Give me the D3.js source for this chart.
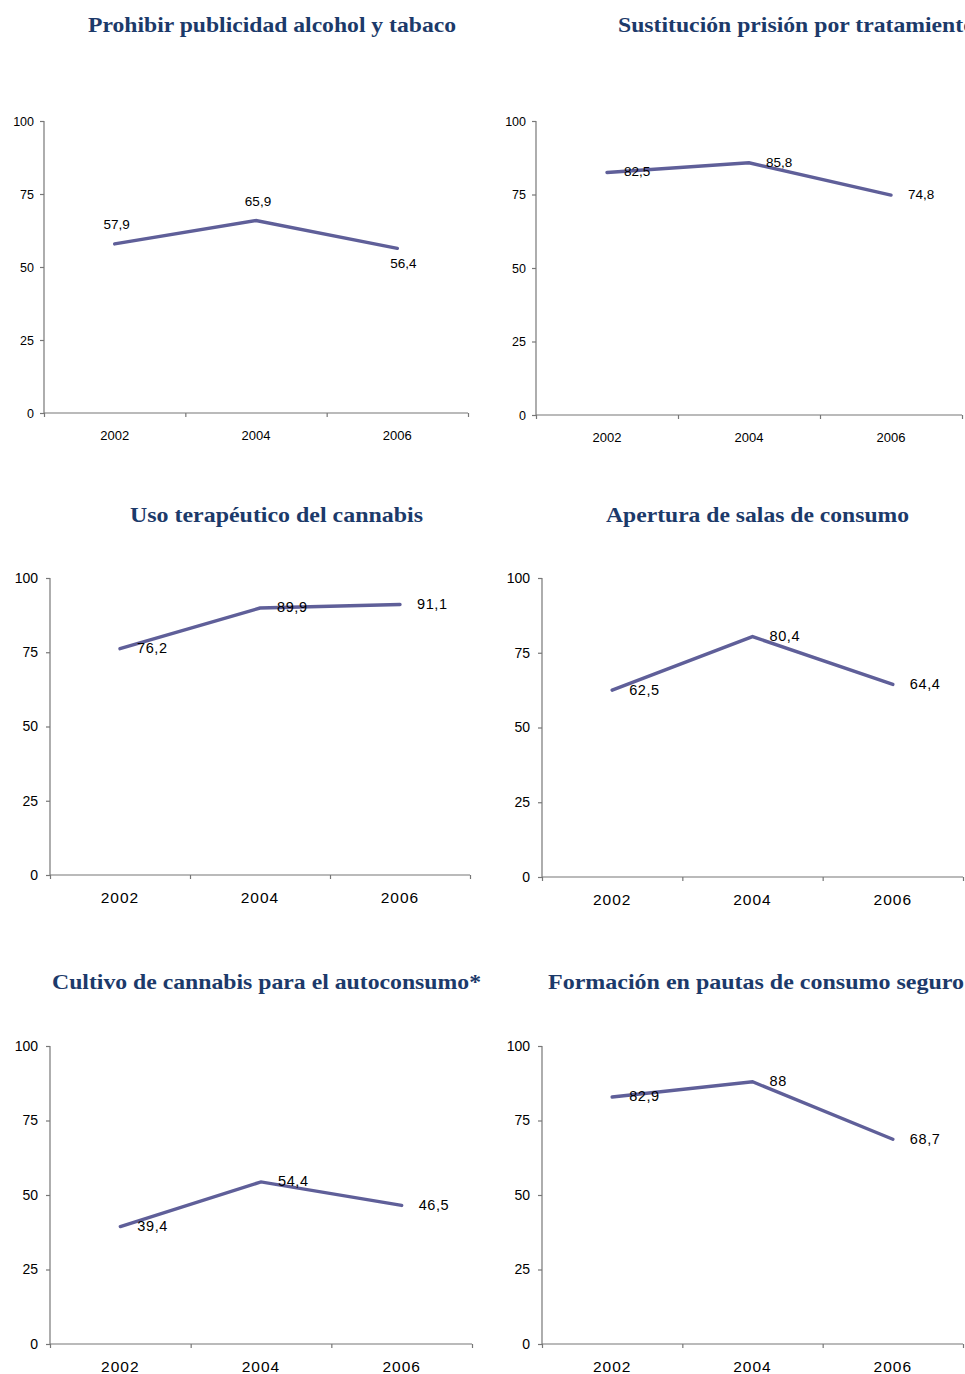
<!DOCTYPE html>
<html><head><meta charset="utf-8">
<script src="https://cdn.jsdelivr.net/npm/d3@7"></script>
<style>body{margin:0;background:#fff;overflow:hidden}</style>
</head><body><svg id="c" width="965" height="1374"></svg>
<script>
// ---- data ----
const years = ["2002", "2004", "2006"];
const yTicks = [0, 25, 50, 75, 100];
const titles = [
  "Prohibir publicidad alcohol y tabaco",
  "Sustitución prisión por tratamiento",
  "Uso terapéutico del cannabis",
  "Apertura de salas de consumo",
  "Cultivo de cannabis para el autoconsumo*",
  "Formación en pautas de consumo seguro"
];
const publicidad = [57.9, 65.9, 56.4];
const sustitucion = [82.5, 85.8, 74.8];
const terapeutico = [76.2, 89.9, 91.1];
const salas = [62.5, 80.4, 64.4];
const cultivo = [39.4, 54.4, 46.5];
const formacion = [82.9, 88, 68.7];
const seriesList = [publicidad, sustitucion, terapeutico, salas, cultivo, formacion];

// ---- layout (not data) ----
const layout = [
  {x0:44,  x1:468, yTop:121,  yBot:413,  tx:88,  ty:32,  tw:368, big:false, lab:["above","above","below"]},
  {x0:536, x1:962, yTop:121,  yBot:415,  tx:618, ty:32,  tw:357, big:false, lab:["right","right","right"]},
  {x0:50,  x1:470, yTop:578,  yBot:875,  tx:130, ty:522, tw:293, big:true,  lab:["right","right","right"]},
  {x0:542, x1:963, yTop:578,  yBot:877,  tx:606, ty:522, tw:303, big:true,  lab:["right","right","right"]},
  {x0:50,  x1:472, yTop:1046, yBot:1344, tx:52,  ty:989, tw:429, big:true,  lab:["right","right","right"]},
  {x0:542, x1:963, yTop:1046, yBot:1344, tx:548, ty:989, tw:416, big:true,  lab:["right","right","right"]}
];

const svg = d3.select("#c");
const lineColor = "#5f5f99";
const axisColor = "#777";
const fmt = v => String(v).replace(".", ",");

seriesList.forEach((vals, i) => {
  const L = layout[i];
  const g = svg.append("g");
  const x = d3.scaleBand().domain(years).range([L.x0, L.x1]);
  const xb = d3.scaleLinear().domain([0, years.length]).range([L.x0, L.x1]);
  const y = d3.scaleLinear().domain([0, 100]).range([L.yBot, L.yTop]);

  // title
  g.append("text")
    .attr("x", L.tx).attr("y", L.ty)
    .attr("textLength", L.tw).attr("lengthAdjust", "spacingAndGlyphs")
    .style("font-family", "'Liberation Serif','DejaVu Serif',serif")
    .style("font-weight", "bold").style("font-size", "21px")
    .style("fill", "#1c3a6a")
    .text(titles[i]);

  // y axis
  const ya = g.append("g").attr("transform", `translate(${L.x0},0)`)
    .call(d3.axisLeft(y).tickValues(yTicks).tickSize(4).tickPadding(L.big ? 8 : 6));
  // x axis (tick marks at band boundaries)
  const xa = g.append("g").attr("transform", `translate(0,${L.yBot})`)
    .call(d3.axisBottom(xb).tickValues(d3.range(years.length + 1)).tickSize(4).tickFormat(""));
  [ya, xa].forEach(a => {
    a.select(".domain").attr("stroke", axisColor).attr("stroke-width", 1.2);
    a.selectAll(".tick line").attr("stroke", axisColor).attr("stroke-width", 1.2);
  });
  ya.select(".domain").attr("d", `M0,${L.yTop}V${L.yBot}`);
  xa.select(".domain").attr("d", `M${L.x0},0H${L.x1}`);
  ya.selectAll(".tick text")
    .style("font-family", "'Liberation Sans',Arial,sans-serif")
    .style("font-size", L.big ? "14px" : "12.5px").style("fill", "#000");

  // x labels
  g.selectAll(".yl").data(years).enter().append("text")
    .attr("x", d => x(d) + x.bandwidth() / 2).attr("y", L.yBot + 22)
    .attr("text-anchor", "middle").attr("dominant-baseline", "central")
    .style("font-family", "'Liberation Sans',Arial,sans-serif")
    .style("font-size", L.big ? "15.5px" : "13px")
    .style("letter-spacing", L.big ? "1px" : "0px")
    .text(d => d);

  // line
  const pts = vals.map((v, k) => [x(years[k]) + x.bandwidth() / 2, y(v)]);
  g.append("path").datum(pts)
    .attr("d", d3.line())
    .attr("fill", "none").attr("stroke", lineColor)
    .attr("stroke-width", 3.4).attr("stroke-linejoin", "miter").attr("stroke-linecap", "round");

  // data labels
  vals.forEach((v, k) => {
    const [px, py] = pts[k];
    const mode = L.lab[k];
    const t = g.append("text")
      .style("font-family", "'Liberation Sans',Arial,sans-serif")
      .style("font-size", L.big ? "14.5px" : "13.5px")
      .style("letter-spacing", L.big ? "0.6px" : "0px")
      .attr("dominant-baseline", "central")
      .text(fmt(v));
    if (mode === "above") t.attr("x", px + 2).attr("y", py - 19).attr("text-anchor", "middle");
    else if (mode === "below") t.attr("x", px + 6).attr("y", py + 15).attr("text-anchor", "middle");
    else t.attr("x", px + 17).attr("y", py - 0.5).attr("text-anchor", "start");
  });
});
</script></body></html>
